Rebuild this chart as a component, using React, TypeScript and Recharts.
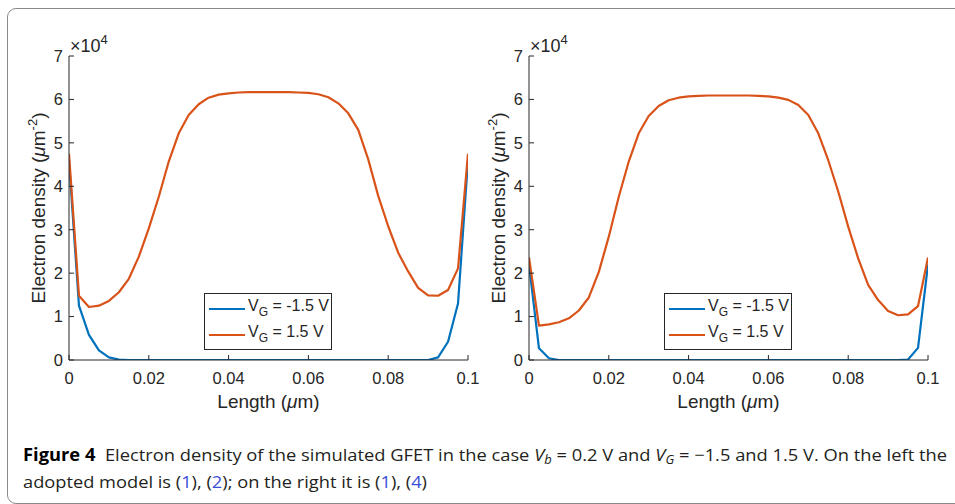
import { LineChart, Line, XAxis, YAxis, Legend, Label } from "recharts";

// position along the channel (µm)
const lengthUm = [
  0, 0.0025, 0.005, 0.0075, 0.01, 0.0125, 0.015, 0.0175, 0.02, 0.0225,
  0.025, 0.0275, 0.03, 0.0325, 0.035, 0.0375, 0.04, 0.0425, 0.045, 0.0475,
  0.05, 0.0525, 0.055, 0.0575, 0.06, 0.0625, 0.065, 0.0675, 0.07, 0.0725,
  0.075, 0.0775, 0.08, 0.0825, 0.085, 0.0875, 0.09, 0.0925, 0.095, 0.0975, 0.1,
];

// electron density, in units of 10^4 µm^-2
// left panel: model (1), (2)
const leftNeg = [
  4.6, 1.25, 0.58, 0.22, 0.06, 0.01, 0, 0, 0, 0,
  0, 0, 0, 0, 0, 0, 0, 0, 0, 0,
  0, 0, 0, 0, 0, 0, 0, 0, 0, 0,
  0, 0, 0, 0, 0, 0, 0, 0.06, 0.42, 1.3, 4.6,
];
const leftPos = [
  4.75, 1.48, 1.22, 1.25, 1.36, 1.56, 1.87, 2.38, 3.03, 3.76,
  4.57, 5.22, 5.64, 5.89, 6.04, 6.11, 6.14, 6.16, 6.17, 6.17,
  6.17, 6.17, 6.17, 6.16, 6.15, 6.12, 6.05, 5.91, 5.68, 5.3,
  4.62, 3.78, 3.08, 2.47, 2.04, 1.66, 1.49, 1.48, 1.61, 2.11, 4.75,
];
// right panel: model (1), (4)
const rightNeg = [
  2.2, 0.27, 0.04, 0, 0, 0, 0, 0, 0, 0,
  0, 0, 0, 0, 0, 0, 0, 0, 0, 0,
  0, 0, 0, 0, 0, 0, 0, 0, 0, 0,
  0, 0, 0, 0, 0, 0, 0, 0, 0.01, 0.28, 2.2,
];
const rightPos = [
  2.36, 0.79, 0.82, 0.87, 0.96, 1.14, 1.44, 2.03, 2.84, 3.76,
  4.57, 5.22, 5.62, 5.85, 5.98, 6.04, 6.07, 6.08, 6.09, 6.09,
  6.09, 6.09, 6.09, 6.08, 6.07, 6.04, 5.99, 5.87, 5.64, 5.22,
  4.6, 3.88, 3.07, 2.34, 1.73, 1.38, 1.13, 1.03, 1.05, 1.24, 2.36,
];

const xTicks = [0, 0.02, 0.04, 0.06, 0.08, 0.1];
const yTicks = [0, 1, 2, 3, 4, 5, 6, 7];
const gateVoltages = ["-1.5", "1.5"];

const AXIS = "#262626";
const BLUE = "#0072BD";
const ORANGE = "#D95319";
const FONT = "'Liberation Sans', Arial, sans-serif";

const tickStyle = { fontSize: 16.5, fill: AXIS, fontFamily: FONT };

function LegendBox({ payload }: any) {
  return (
    <div
      style={{
        border: `1px solid ${AXIS}`,
        background: "#fff",
        width: 128,
        height: 57,
        boxSizing: "border-box",
        fontFamily: FONT,
        fontSize: 16,
        color: AXIS,
        paddingTop: 2,
      }}
    >
      {(payload || []).map((entry: any, i: number) => (
        <div key={i} style={{ display: "flex", alignItems: "center", height: 26, lineHeight: "16px", whiteSpace: "nowrap" }}>
          <span style={{ display: "inline-block", flex: "none", width: 36, height: 2.5, background: entry.color, marginLeft: 4, marginRight: 3 }} />
          <span>
            V<sub style={{ fontSize: 12, verticalAlign: -5 }}>G</sub> = {gateVoltages[i]} V
          </span>
        </div>
      ))}
    </div>
  );
}

function Panel({ left, neg, pos }: { left: number; neg: number[]; pos: number[] }) {
  const data = lengthUm.map((x, i) => ({ x, neg: neg[i], pos: pos[i] }));
  return (
    <div style={{ position: "absolute", left, top: 0 }}>
      <LineChart width={480} height={420} data={data} margin={{ top: 56, right: 12, bottom: 10, left: 9 }}>
        <XAxis
          dataKey="x"
          type="number"
          domain={[0, 0.1]}
          ticks={xTicks}
          allowDataOverflow
          height={50}
          stroke={AXIS}
          tick={tickStyle}
          tickSize={-5}
          tickMargin={17}
          interval={0}
        >
          <Label
            content={({ viewBox }: any) => (
              <text
                x={viewBox.x + viewBox.width / 2}
                y={viewBox.y + 48}
                textAnchor="middle"
                fontFamily={FONT}
                fontSize={19}
                fill={AXIS}
              >
                Length (<tspan fontStyle="italic">μ</tspan>m)
              </text>
            )}
          />
        </XAxis>
        <XAxis
          xAxisId="top"
          orientation="top"
          type="number"
          domain={[0, 0.1]}
          ticks={xTicks}
          allowDataOverflow
          height={0}
          stroke={AXIS}
          tick={false}
          tickSize={-5}
          interval={0}
        />
        <YAxis
          type="number"
          domain={[0, 7]}
          ticks={yTicks}
          allowDataOverflow
          width={60}
          stroke={AXIS}
          tick={tickStyle}
          tickSize={-5}
          tickMargin={11}
          interval={0}
        >
          <Label
            content={({ viewBox }: any) => {
              const cx = viewBox.x + 36;
              const cy = viewBox.y + viewBox.height / 2;
              return (
                <text
                  x={cx}
                  y={cy}
                  transform={`rotate(-90 ${cx} ${cy})`}
                  textAnchor="middle"
                  fontFamily={FONT}
                  fontSize={19}
                  fill={AXIS}
                >
                  Electron density (<tspan fontStyle="italic">μ</tspan>m
                  <tspan fontSize={13} dy={-8}>-2</tspan>
                  <tspan dy={8}>)</tspan>
                </text>
              );
            }}
          />
          <Label
            content={({ viewBox }: any) => (
              <text x={viewBox.x + viewBox.width + 1} y={viewBox.y - 4} fontFamily={FONT} fontSize={18} fill={AXIS}>
                ×10<tspan fontSize={13} dy={-8}>4</tspan>
              </text>
            )}
          />
        </YAxis>
        <YAxis
          yAxisId="right"
          orientation="right"
          type="number"
          domain={[0, 7]}
          ticks={yTicks}
          allowDataOverflow
          width={0}
          stroke={AXIS}
          tick={false}
          tickSize={-5}
          interval={0}
        />
        <Legend
          layout="horizontal"
          verticalAlign="middle"
          align="center"
          content={LegendBox}
          wrapperStyle={{ left: 204, top: 293, width: 128, height: 57 }}
        />
        <Line
          dataKey="neg"
          name="VG = -1.5 V"
          stroke={BLUE}
          strokeWidth={2.2}
          dot={false}
          isAnimationActive={false}
          strokeLinejoin="round"
        />
        <Line
          dataKey="pos"
          name="VG = 1.5 V"
          stroke={ORANGE}
          strokeWidth={2.2}
          dot={false}
          isAnimationActive={false}
          strokeLinejoin="round"
        />
      </LineChart>
    </div>
  );
}

export default function App() {
  const capFont = "'Open Sans', 'Noto Sans', sans-serif";
  const linkBlue = "#3b4fd6";
  return (
    <div style={{ position: "absolute", left: 0, top: 0, width: 955, height: 504, overflow: "hidden", background: "#fff" }}>
      <div
        style={{
          position: "absolute",
          left: 7,
          top: 8,
          width: 1000,
          height: 496,
          border: "1px solid #8a8a8a",
          borderRadius: 9,
          boxSizing: "border-box",
        }}
      />
      <Panel left={0} neg={leftNeg} pos={leftPos} />
      <Panel left={460} neg={rightNeg} pos={rightPos} />
      <svg style={{ position: "absolute", left: 0, top: 430 }} width={955} height={74}>
        <text
          x={23}
          y={31}
          fontFamily={capFont}
          fontSize={17}
          fill="#231f20"
          textLength={924}
          lengthAdjust="spacingAndGlyphs"
          style={{ whiteSpace: "pre" }}
        >
          <tspan fontWeight="bold" fill="#000">Figure 4</tspan>
          <tspan>{"  Electron density of the simulated GFET in the case "}</tspan>
          <tspan fontStyle="italic">V</tspan>
          <tspan fontStyle="italic" fontSize={12} dy={3}>b</tspan>
          <tspan dy={-3}>{" = 0.2 V and "}</tspan>
          <tspan fontStyle="italic">V</tspan>
          <tspan fontStyle="italic" fontSize={12} dy={3}>G</tspan>
          <tspan dy={-3}>{" = −1.5 and 1.5 V. On the left the"}</tspan>
        </text>
        <text x={23} y={58} fontFamily={capFont} fontSize={17} fill="#231f20" textLength={404} lengthAdjust="spacingAndGlyphs">
          adopted model is (<tspan fill={linkBlue}>1</tspan>), (<tspan fill={linkBlue}>2</tspan>); on the right it is (
          <tspan fill={linkBlue}>1</tspan>), (<tspan fill={linkBlue}>4</tspan>)
        </text>
      </svg>
    </div>
  );
}
